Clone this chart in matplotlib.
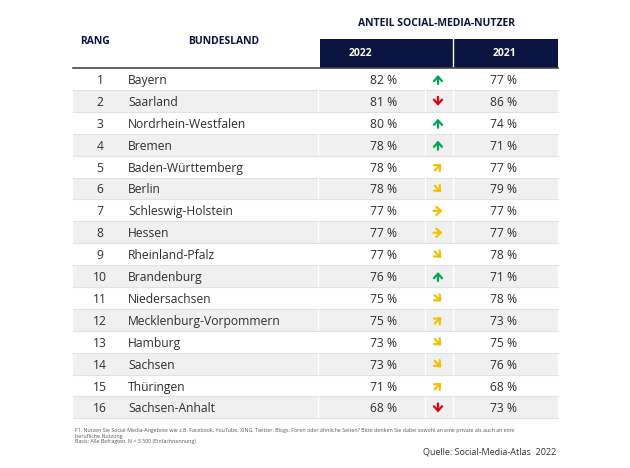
import matplotlib.pyplot as plt
from matplotlib.patches import Rectangle

# data of the table
rang = list(range(1, 17))
bundesland = ['Bayern', 'Saarland', 'Nordrhein-Westfalen', 'Bremen', 'Baden-Württemberg',
              'Berlin', 'Schleswig-Holstein', 'Hessen', 'Rheinland-Pfalz', 'Brandenburg',
              'Niedersachsen', 'Mecklenburg-Vorpommern', 'Hamburg', 'Sachsen', 'Thüringen',
              'Sachsen-Anhalt']
anteil_2022 = [82, 81, 80, 78, 78, 78, 77, 77, 77, 76, 75, 75, 73, 73, 71, 68]
anteil_2021 = [77, 86, 74, 71, 77, 79, 77, 77, 78, 71, 78, 73, 75, 76, 68, 73]
trend = ['up', 'down', 'up', 'up', 'ne', 'se', 'right', 'right', 'se', 'up', 'se', 'ne',
         'se', 'se', 'ne', 'down']

# arrow direction (screen coords, y down) and colour for each trend
trend_vec = {'up': (0, -1), 'down': (0, 1), 'ne': (0.72, -0.72), 'se': (0.72, 0.72),
             'right': (1, 0)}
trend_col = {'up': '#00a651', 'down': '#e3000f', 'ne': '#f6c000', 'se': '#f6c000',
             'right': '#f6c000'}

navy = '#0a1541'
txt = '#2e2e2e'
plt.rcParams['font.family'] = ['Open Sans', 'DejaVu Sans']

fig = plt.figure(figsize=(6.3, 4.68), dpi=100)
ax = fig.add_axes([0, 0, 1, 1])
ax.set_xlim(0, 630)
ax.set_ylim(468, 0)
ax.axis('off')

left, right = 73, 558
top = 68
h = 21.9

# header
ax.text(95, 42, 'RANG', ha='center', va='center', fontsize=7.5, fontweight='bold', color=navy)
ax.text(224, 42, 'BUNDESLAND', ha='center', va='center', fontsize=7.5, fontweight='bold', color=navy)
ax.text(437, 24, 'ANTEIL SOCIAL-MEDIA-NUTZER', ha='center', va='center', fontsize=7.5,
        fontweight='bold', color=navy)
ax.add_patch(Rectangle((320, 39), right - 320, top - 39, color=navy, lw=0))
ax.plot([453, 453], [39, top], color='white', lw=1)
ax.text(360, 54, '2022', ha='center', va='center', fontsize=7.5, fontweight='bold', color='white')
ax.text(505, 54, '2021', ha='center', va='center', fontsize=7.5, fontweight='bold', color='white')
ax.plot([left, right], [top, top], color='#444444', lw=1.2)

for i in range(len(rang)):
    y0 = top + i * h
    yc = y0 + h / 2 + 1.5
    if i % 2 == 1:
        ax.add_patch(Rectangle((left, y0), right - left, h, color='#f0f0f0', lw=0))
        for xs in (318, 425, 453):
            ax.plot([xs, xs], [y0, y0 + h], color='white', lw=1)
    ax.plot([left, right], [y0 + h, y0 + h], color='#e2e2e2', lw=0.8)
    ax.text(100, yc, str(rang[i]), ha='center', va='center', fontsize=8.7, color=txt)
    ax.text(128, yc, bundesland[i], ha='left', va='center', fontsize=8.7, color=txt)
    ax.text(384, yc, f'{anteil_2022[i]} %', ha='center', va='center', fontsize=8.7, color=txt)
    dx, dy = trend_vec[trend[i]]
    ax.annotate('', xy=(438 + dx * 4.5, yc - 1 + dy * 4.5),
                xytext=(438 - dx * 4.5, yc - 1 - dy * 4.5),
                arrowprops=dict(arrowstyle='->,head_length=0.5,head_width=0.45',
                                color=trend_col[trend[i]], lw=1.6,
                                mutation_scale=6.5, shrinkA=0, shrinkB=0))
    ax.text(504, yc, f'{anteil_2021[i]} %', ha='center', va='center', fontsize=8.7, color=txt)

note = ('F1. Nutzen Sie Social-Media-Angebote wie z.B. Facebook, YouTube, XING, Twitter, Blogs, Foren oder '
        'ähnliche Seiten? Bitte denken Sie dabei sowohl an eine private als auch an eine\n'
        'berufliche Nutzung.\nBasis: Alle Befragten, N = 3.500 (Einfachnennung)')
ax.text(75, 428, note, ha='left', va='top', fontsize=3.8, color='#555555', linespacing=1.15)
ax.text(556, 452, 'Quelle: Social-Media-Atlas  2022', ha='right', va='center', fontsize=6.5,
        color='#333333')

fig.savefig('out.png', dpi=100)
